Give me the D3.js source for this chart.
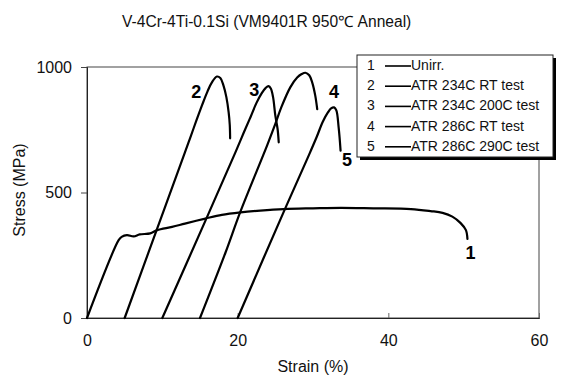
<!DOCTYPE html>
<html>
<head>
<meta charset="utf-8">
<script src="https://cdn.jsdelivr.net/npm/d3@7"></script>
<style>
  html, body { margin: 0; padding: 0; background: #fff; }
  svg { display: block; font-family: "Liberation Sans", Arial, sans-serif; }
</style>
</head>
<body>
<svg id="chart" width="564" height="379"></svg>
<script>
// ---- Data ----
const titleText = "V-4Cr-4Ti-0.1Si (VM9401R 950\u2103 Anneal)";
const xLabel = "Strain (%)";
const yLabel = "Stress (MPa)";
const xTicks = [0, 20, 40, 60];
const yTicks = [0, 500, 1000];

const legendNums = ["1", "2", "3", "4", "5"];
const legendLabels = ["Unirr.", "ATR 234C RT test", "ATR 234C 200C test", "ATR 286C RT test", "ATR 286C 290C test"];

// [strain %, stress MPa]
const curve1 = [[0,0],[4.2,310],[4.6,323],[5.3,330],[6.2,325],[7.0,333],[8.4,337],[9.3,350],[11.3,363],[13,376],[15.7,396],[17.9,411],[20.4,421],[23,428],[26.1,434],[30,437],[33.7,439],[38,437],[43,434],[45.6,426],[47.2,419],[48.5,404],[49.6,378],[50.3,350],[50.5,315]];
const curve2 = [[5,0],[9.3,355],[13.0,660],[13.7,718],[14.5,785],[15.3,850],[16.0,903],[16.6,940],[17.25,962],[17.7,956],[18.1,928],[18.5,880],[18.8,820],[18.95,770],[19.0,716]];
const curve3 = [[10,0],[15.9,400],[19.7,660],[20.8,738],[21.7,800],[22.5,857],[23.2,896],[23.7,916],[24.1,924],[24.4,914],[24.7,880],[25.0,806],[25.3,753],[25.45,700]];
const curve4 = [[15,0],[18.4,262],[20.35,423],[23.9,687],[25,773],[25.8,840],[27,920],[27.9,958],[28.5,972],[29,977],[29.5,967],[29.9,938],[30.3,886],[30.56,832]];
const curve5 = [[20,0],[26.3,436],[29.5,652],[30.5,722],[31.3,782],[32.0,820],[32.4,835],[32.8,839],[33.1,827],[33.4,760],[33.66,667]];
const curves = [curve1, curve2, curve3, curve4, curve5];

// curve label positions in data units
const curveLabelText = ["1", "2", "3", "4", "5"];
const curveLabelPos = [[50.9, 258], [14.5, 900], [22.2, 907], [32.8, 900], [34.5, 630]];

// ---- Layout ----
const svg = d3.select("#chart");
const mLeft = 87, mRight = 539, mTop = 67, mBottom = 318;

const x = d3.scaleLinear().domain([0, 60]).range([mLeft, mRight]);
const y = d3.scaleLinear().domain([0, 1000]).range([mBottom, mTop]);

// Title
svg.append("text")
  .attr("x", 122).attr("y", 27)
  .attr("text-anchor", "start")
  .attr("font-size", 15.6)
  .attr("fill", "#111")
  .text(titleText);

// Plot frame
svg.append("rect")
  .attr("x", mLeft).attr("y", mTop)
  .attr("width", mRight - mLeft).attr("height", mBottom - mTop)
  .attr("fill", "none").attr("stroke", "#444").attr("stroke-width", 1);

// X axis
const xAxis = d3.axisBottom(x).tickValues(xTicks).tickSize(-5).tickPadding(17).tickFormat(d3.format("d"));
const gx = svg.append("g").attr("transform", `translate(0,${mBottom})`).call(xAxis);
gx.select(".domain").attr("stroke", "#222");
gx.selectAll(".tick line").attr("stroke", "#666");
gx.selectAll("text").attr("font-size", 16).attr("fill", "#111").attr("font-family", "Liberation Sans, Arial, sans-serif");

// Y axis
const yAxis = d3.axisLeft(y).tickValues(yTicks).tickSize(6).tickPadding(9).tickFormat(d3.format("d"));
const gy = svg.append("g").attr("transform", `translate(${mLeft},0)`).call(yAxis);
gy.select(".domain").attr("stroke", "#222");
gy.selectAll(".tick line").attr("stroke", "#444");
gy.selectAll("text").attr("font-size", 16).attr("fill", "#111").attr("font-family", "Liberation Sans, Arial, sans-serif");

// Axis labels
svg.append("text")
  .attr("x", 313).attr("y", 372)
  .attr("text-anchor", "middle").attr("font-size", 16).attr("fill", "#111")
  .text(xLabel);
svg.append("text")
  .attr("transform", `translate(25,190) rotate(-90)`)
  .attr("text-anchor", "middle").attr("font-size", 16).attr("fill", "#111")
  .text(yLabel);

// Curves
const line = d3.line()
  .x(d => x(d[0])).y(d => y(d[1]))
  .curve(d3.curveCatmullRom.alpha(0.5));
svg.append("g").selectAll("path").data(curves).join("path")
  .attr("d", line)
  .attr("fill", "none").attr("stroke", "#000")
  .attr("stroke-width", 2.2)
  .attr("stroke-linejoin", "round").attr("stroke-linecap", "round");

// Curve labels
svg.append("g").selectAll("text").data(curveLabelText).join("text")
  .attr("x", (d, i) => x(curveLabelPos[i][0]))
  .attr("y", (d, i) => y(curveLabelPos[i][1]))
  .attr("text-anchor", "middle").attr("dominant-baseline", "central")
  .attr("font-size", 18).attr("font-weight", "bold").attr("fill", "#000")
  .text(d => d);

// Legend
const lgX = 357, lgY = 55, lgW = 196, lgH = 102;
const lg = svg.append("g");
lg.append("rect").attr("x", lgX + 3).attr("y", lgY + 3).attr("width", lgW).attr("height", lgH).attr("fill", "#000");
lg.append("rect").attr("x", lgX).attr("y", lgY).attr("width", lgW).attr("height", lgH)
  .attr("fill", "#fff").attr("stroke", "#222").attr("stroke-width", 1);
const rows = lg.selectAll("g.row").data(legendLabels).join("g")
  .attr("class", "row")
  .attr("transform", (d, i) => `translate(0,${65 + i * 20.2})`);
rows.append("text").attr("x", 371).attr("y", 0)
  .attr("text-anchor", "middle").attr("dominant-baseline", "central")
  .attr("font-size", 14).attr("fill", "#111")
  .text((d, i) => legendNums[i]);
rows.append("line").attr("x1", 385).attr("x2", 411).attr("y1", 1).attr("y2", 1)
  .attr("stroke", "#000").attr("stroke-width", 1.6);
rows.append("text").attr("x", 411).attr("y", 0)
  .attr("dominant-baseline", "central")
  .attr("font-size", 14).attr("fill", "#111")
  .text(d => d);
</script>
</body>
</html>
